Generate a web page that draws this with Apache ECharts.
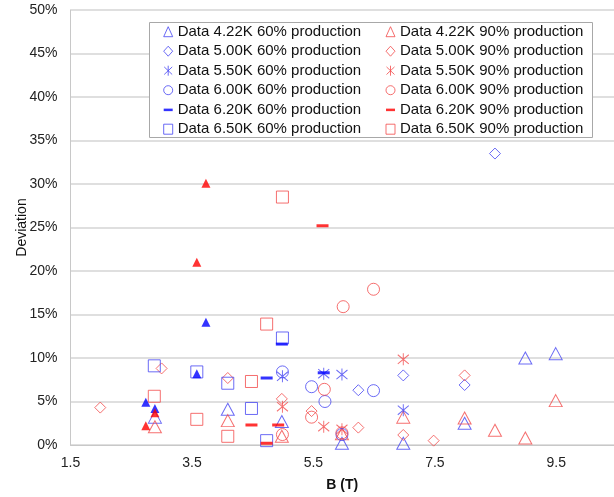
<!DOCTYPE html>
<html>
<head>
<meta charset="utf-8">
<script src="https://cdn.jsdelivr.net/npm/echarts@6/dist/echarts.min.js"></script>
<style>
  html, body { margin: 0; padding: 0; background: #ffffff; }
  #chart { width: 614px; height: 497px; }
</style>
</head>
<body>
<div id="chart"></div>
<script>
// ---- Data: [B (T), deviation %] ----
const d422_60 = [[2.89,3.2],[4.09,4.1],[4.98,2.7],[5.97,0.2],[6.98,0.2],[7.99,2.5],[8.99,10.0],[9.49,10.5]];
const d422_90 = [[2.89,2.1],[4.09,2.8],[4.98,1.0],[5.97,1.3],[6.98,3.2],[7.99,3.1],[8.49,1.7],[8.99,0.8],[9.49,5.1]];
const d500_60 = [[6.24,6.3],[6.98,8.0],[7.99,6.9],[8.49,33.5]];
const d500_90 = [[1.99,4.3],[3.00,8.8],[4.09,7.7],[4.98,5.3],[5.47,3.9],[6.24,2.0],[6.98,1.15],[7.48,0.5],[7.99,8.0]];
const d550_60 = [[4.99,7.9],[5.67,8.2],[5.97,8.1],[6.98,4.0]];
const d550_90 = [[4.99,4.4],[5.67,2.1],[5.97,1.8],[6.98,9.85]];
const d600_60 = [[4.99,8.4],[5.47,6.7],[5.69,5.0],[5.97,1.2],[6.49,6.25]];
const d600_90 = [[4.99,1.2],[5.47,3.2],[5.68,6.4],[5.97,1.4],[5.99,15.9],[6.49,17.9]];
const d620_60 = [[4.73,7.7],[4.98,11.6],[5.67,8.3]];
const d620_90 = [[4.48,2.3],[4.73,0.2],[4.92,2.3],[5.65,25.2]];
const d650_60 = [[2.88,9.1],[3.58,8.4],[4.09,7.1],[4.48,4.2],[4.73,0.5],[4.99,12.3]];
const d650_90 = [[2.88,5.6],[3.58,2.95],[4.09,1.0],[4.48,7.3],[4.73,13.9],[4.99,28.5]];
const filledBlue = [[2.74,4.9],[2.89,4.2],[3.58,8.2],[3.73,14.1]];
const filledRed = [[2.74,2.2],[2.89,3.7],[3.58,21.0],[3.73,30.1]];

const xTicks = [1.5, 3.5, 5.5, 7.5, 9.5];
const yTicks = [0, 5, 10, 15, 20, 25, 30, 35, 40, 45, 50];

const names60 = ['Data 4.22K 60% production','Data 5.00K 60% production','Data 5.50K 60% production','Data 6.00K 60% production','Data 6.20K 60% production','Data 6.50K 60% production'];
const names90 = ['Data 4.22K 90% production','Data 5.00K 90% production','Data 5.50K 90% production','Data 6.00K 90% production','Data 6.20K 90% production','Data 6.50K 90% production'];

const BLUE = '#4646f2', RED = '#f24b4b', BLUE_S = '#0000ff', RED_S = '#ff0000';
const ASTER = 'path://M5,0L5,10M1,1.2L9,8.8M1,8.8L9,1.2';
const DASH_ICON = 'path://M0,0M10,10M0,3.8L10,3.8L10,6.6L0,6.6Z';

function hollow(name, data, symbol, size, color) {
  return {
    name, type: 'scatter', data, symbol, symbolSize: size,
    itemStyle: { color: 'transparent', borderColor: color, borderWidth: 1 },
    emphasis: { disabled: true }, z: 3
  };
}
function dash(name, data, color) {
  return {
    name, type: 'scatter', data, symbol: 'rect', symbolSize: [12, 3],
    itemStyle: { color: color }, emphasis: { disabled: true }, z: 4
  };
}
function filled(name, data, color) {
  return {
    name, type: 'scatter', data, symbol: 'triangle', symbolSize: [9, 9],
    itemStyle: { color: color }, emphasis: { disabled: true }, z: 5
  };
}

const series = [
  hollow(names60[0], d422_60, 'triangle', [13, 12], BLUE),
  hollow(names90[0], d422_90, 'triangle', [13, 12], RED),
  hollow(names60[1], d500_60, 'diamond', [11, 11], BLUE),
  hollow(names90[1], d500_90, 'diamond', [11, 11], RED),
  hollow(names60[2], d550_60, ASTER, [11, 12], BLUE),
  hollow(names90[2], d550_90, ASTER, [11, 12], RED),
  hollow(names60[3], d600_60, 'circle', 12, BLUE),
  hollow(names90[3], d600_90, 'circle', 12, RED),
  dash(names60[4], d620_60, BLUE_S),
  dash(names90[4], d620_90, RED_S),
  hollow(names60[5], d650_60, 'rect', [12, 12], BLUE),
  hollow(names90[5], d650_90, 'rect', [12, 12], RED),
  filled('Filled 60%', filledBlue, BLUE_S),
  filled('Filled 90%', filledRed, RED_S)
];

function legendData(names) {
  return names.map(n => n.indexOf('6.20K') >= 0 ? { name: n, icon: DASH_ICON } : { name: n });
}
const legendCommon = {
  orient: 'vertical', top: 23.7, padding: 0,
  itemWidth: 9, itemHeight: 10, itemGap: 3.5,
  selectedMode: false,
  itemStyle: { borderWidth: 1 },
  textStyle: { fontSize: 15, lineHeight: 16, color: '#111', fontFamily: 'Liberation Sans' }
};

const chart = echarts.init(document.getElementById('chart'), null, { renderer: 'canvas' });
chart.setOption({
  animation: false,
  backgroundColor: '#ffffff',
  textStyle: { fontFamily: 'Liberation Sans' },
  grid: { left: 70.5, right: 0, top: 10, bottom: 52, containLabel: false, outerBoundsMode: 'none' },
  xAxis: {
    type: 'value', min: 1.5, max: 10.45, interval: 2,
    name: 'B (T)', nameLocation: 'middle', nameGap: 33, nameMoveOverlap: false,
    nameTextStyle: { fontSize: 14, fontWeight: 'bold', color: '#111' },
    axisLine: { show: true, lineStyle: { color: '#c8c8c8', width: 1 } },
    axisTick: { show: false },
    splitLine: { show: false },
    axisLabel: {
      fontSize: 14, color: '#222', margin: 11,
      formatter: v => xTicks.some(t => Math.abs(t - v) < 1e-6) ? v.toFixed(1) : ''
    }
  },
  yAxis: {
    type: 'value', min: 0, max: 50, interval: 5,
    name: 'Deviation', nameLocation: 'middle', nameGap: 41, nameMoveOverlap: false,
    nameTextStyle: { fontSize: 14, color: '#111' },
    axisLine: { show: true, lineStyle: { color: '#c8c8c8', width: 1 } },
    axisTick: { show: false },
    splitLine: { show: true, lineStyle: { color: '#d4d4d4', width: 1.5 } },
    axisLabel: {
      fontSize: 14, color: '#222', margin: 13,
      formatter: v => yTicks.indexOf(v) >= 0 ? v + '%' : ''
    }
  },
  legend: [
    Object.assign({}, legendCommon, { left: 163.2, data: legendData(names60) }),
    Object.assign({}, legendCommon, { left: 385.5, data: legendData(names90) })
  ],
  graphic: [{
    type: 'rect', z: 3,
    shape: { x: 149.5, y: 22.5, width: 443, height: 115 },
    style: { fill: '#ffffff', stroke: '#a8a8a8', lineWidth: 1 }
  }],
  series
});
</script>
</body>
</html>
